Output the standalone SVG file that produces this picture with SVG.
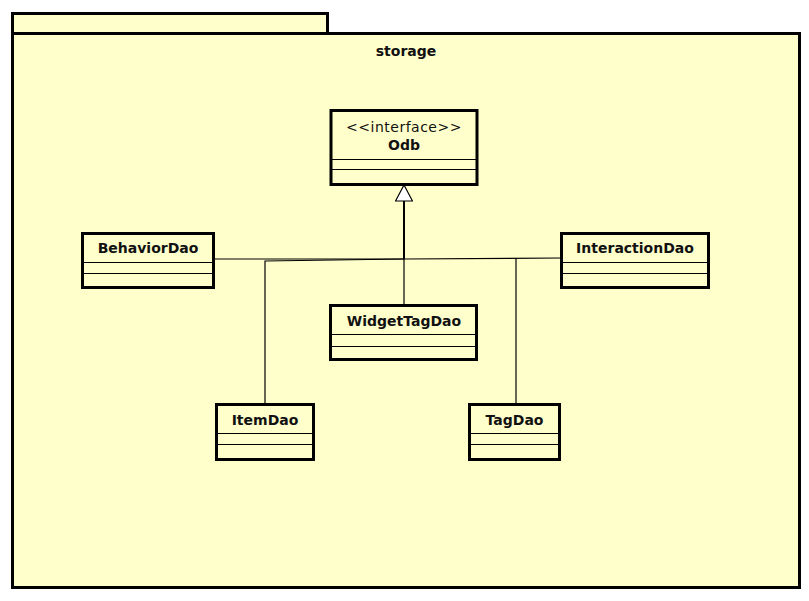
<svg xmlns="http://www.w3.org/2000/svg" width="809" height="601" viewBox="0 0 809 601">
<defs>
<style>
.pkg{fill:#ffffcc;stroke:#000;stroke-width:3}
.box{fill:#ffffcc;stroke:#000;stroke-width:3}
.sep{stroke:#000;stroke-width:1}
.name{font-family:"DejaVu Sans",sans-serif;font-weight:bold;font-size:14px;text-anchor:middle;fill:#111}
.stereo{font-family:"DejaVu Sans",sans-serif;font-size:14px;letter-spacing:0.5px;text-anchor:middle;fill:#111}
.conn{fill:none;stroke:#000;stroke-width:1.2}
</style>
<marker id="gen" viewBox="0 0 20 18" refX="19" refY="9" markerWidth="20" markerHeight="18" markerUnits="userSpaceOnUse" orient="auto">
<path d="M3,0.5 L19,9 L3,17.5 Z" fill="#fff" stroke="#000" stroke-width="1.2"/>
</marker>
</defs>
<rect width="809" height="601" fill="#fff"/>
<g id="storage">
<rect class="pkg" x="12.5" y="13.5" width="315" height="20"/>
<rect class="pkg" x="12.5" y="33.5" width="787" height="554"/>
<text class="name" x="406" y="56">storage</text>
</g>
<g id="connectors">
<polyline class="conn" points="214,259 404,259 404,201"/>
<polyline class="conn" points="265,403 265,261 404,259"/>
<polyline class="conn" points="404,305 404,201"/>
<polyline class="conn" points="561,258 404,259"/>
<polyline class="conn" points="516,403 516,258"/>
<line class="conn" x1="404" y1="259" x2="404" y2="185" style="stroke-width:2" marker-end="url(#gen)"/>
</g>
<g id="Odb">
<rect class="box" x="331" y="110.5" width="146" height="74"/>
<text class="stereo" x="404" y="132">&lt;&lt;interface&gt;&gt;</text>
<text class="name" x="404" y="150">Odb</text>
<line class="sep" x1="331" y1="159.5" x2="477" y2="159.5"/>
<line class="sep" x1="331" y1="169.5" x2="477" y2="169.5"/>
</g>
<g id="BehaviorDao">
<rect class="box" x="82.5" y="233.5" width="131" height="54"/>
<text class="name" x="148" y="253">BehaviorDao</text>
<line class="sep" x1="82" y1="262.5" x2="214" y2="262.5"/>
<line class="sep" x1="82" y1="273.5" x2="214" y2="273.5"/>
</g>
<g id="InteractionDao">
<rect class="box" x="561.5" y="233.5" width="147" height="54"/>
<text class="name" x="635" y="253">InteractionDao</text>
<line class="sep" x1="561" y1="262.5" x2="709" y2="262.5"/>
<line class="sep" x1="561" y1="273.5" x2="709" y2="273.5"/>
</g>
<g id="WidgetTagDao">
<rect class="box" x="330.5" y="305.5" width="146" height="54"/>
<text class="name" x="404" y="326">WidgetTagDao</text>
<line class="sep" x1="330" y1="334.5" x2="477" y2="334.5"/>
<line class="sep" x1="330" y1="346.5" x2="477" y2="346.5"/>
</g>
<g id="ItemDao">
<rect class="box" x="216.5" y="404.5" width="97" height="55"/>
<text class="name" x="265" y="425">ItemDao</text>
<line class="sep" x1="216" y1="433.5" x2="314" y2="433.5"/>
<line class="sep" x1="216" y1="444.5" x2="314" y2="444.5"/>
</g>
<g id="TagDao">
<rect class="box" x="469.5" y="404.5" width="90" height="55"/>
<text class="name" x="514.5" y="425">TagDao</text>
<line class="sep" x1="469" y1="433.5" x2="560" y2="433.5"/>
<line class="sep" x1="469" y1="444.5" x2="560" y2="444.5"/>
</g>
</svg>
